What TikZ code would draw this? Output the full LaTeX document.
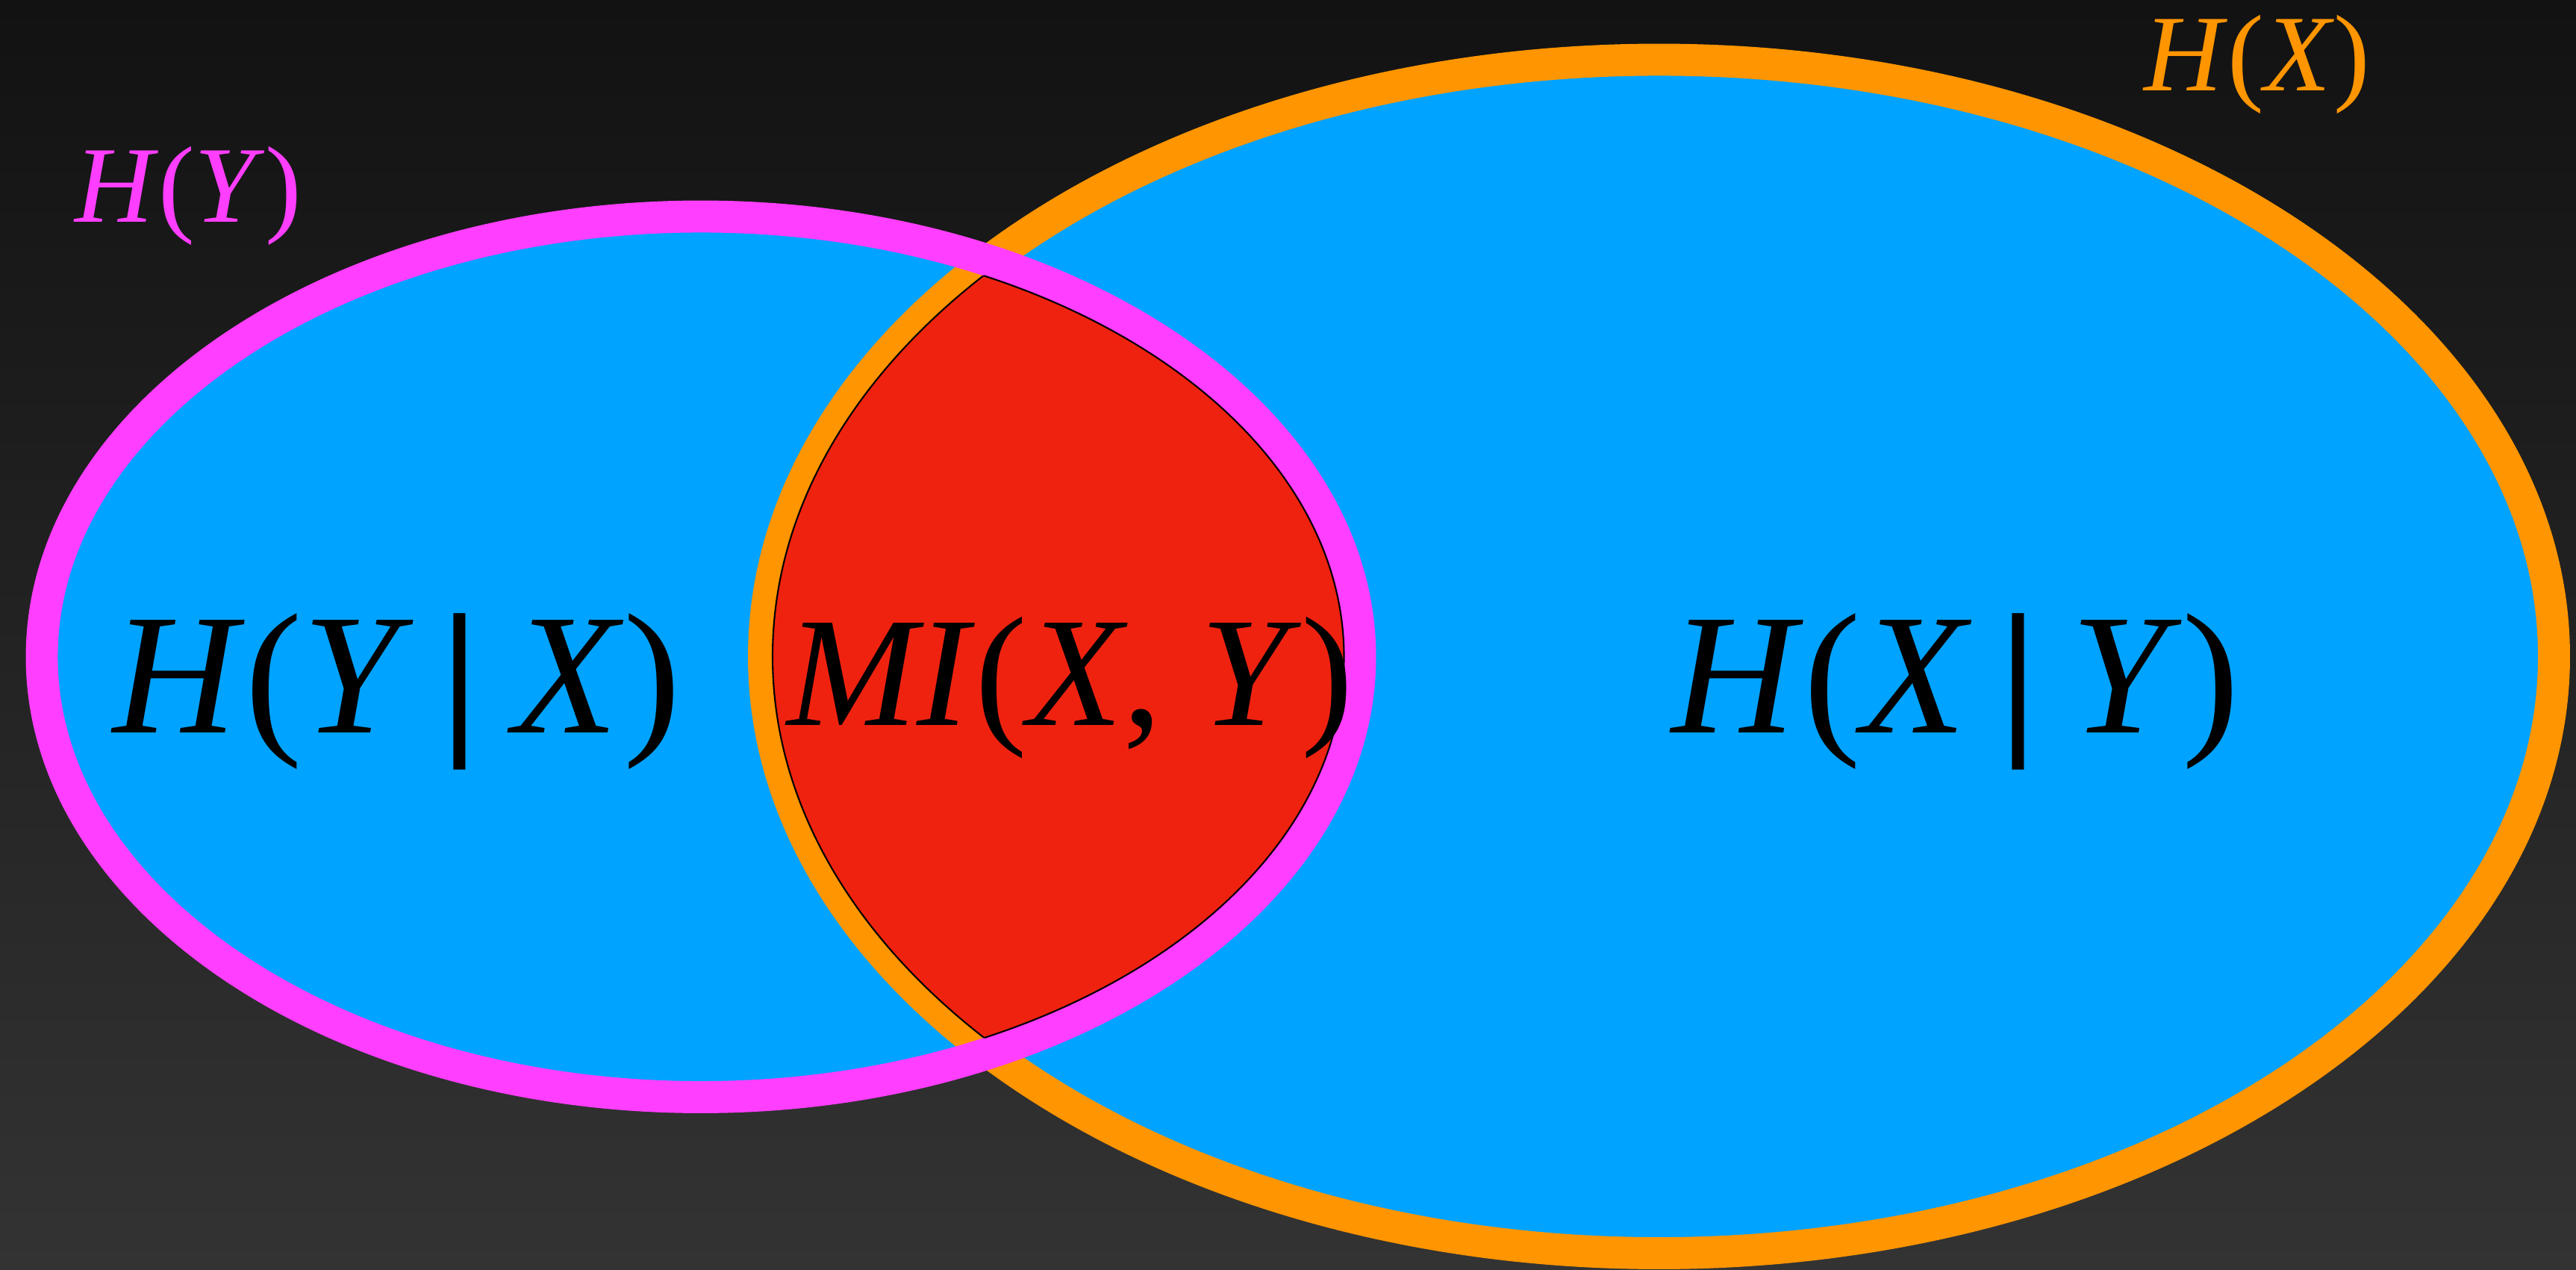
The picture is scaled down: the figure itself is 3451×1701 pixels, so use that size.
\documentclass[tikz,border=0pt]{standalone}
\usepackage{fontspec}
\setmainfont{Liberation Serif}
\definecolor{bgtop}{HTML}{121212}
\definecolor{bgbot}{HTML}{333333}
\definecolor{vennblue}{HTML}{00A3FF}
\definecolor{hxorange}{HTML}{FF9500}
\definecolor{hypink}{HTML}{FF3EFF}
\definecolor{mired}{HTML}{EF2210}
\newcommand{\condbar}{\hspace{0.16em}{\bfseries|}\hspace{0.2em}}
\begin{document}
\begin{tikzpicture}[x=0.01cm, y=-0.01cm,
  ring/.style={line width=12.2pt},
  outerx/.style={x radius=1199, y radius=799.25},
  outery/.style={x radius=883, y radius=589.75},
  cutx/.style={x radius=1187.5, y radius=787.75},
  cuty/.style={x radius=861.5, y radius=568.25},
  biglabel/.style={anchor=base, inner sep=0pt, font=\fontsize{65.5}{72}\selectfont},
  milabel/.style={anchor=base, inner sep=0pt, font=\fontsize{59.5}{66}\selectfont},
  setlabel/.style={anchor=base, inner sep=0pt, font=\fontsize{41.5}{48}\selectfont}]
% Entropy Venn diagram, pixel coordinates (y downwards)
\begin{scope}[line join=round]
  % Background
  \shade[top color=bgtop, bottom color=bgbot] (0,0) rectangle (3451,1701);
  \useasboundingbox (0,0) rectangle (3451,1701);
  % Centres
  \coordinate (hxc) at (2222.5,879.25);
  \coordinate (hyc) at (939,879.75);
  % Fills
  \fill[vennblue] (hxc) ellipse [outerx];
  \fill[vennblue] (hyc) ellipse [outery];
  % Rings
  \draw[hxorange, ring] (hxc) ellipse [outerx];
  \draw[hypink, ring] (hyc) ellipse [outery];
  % Overlap
  \begin{scope}
    \clip (hxc) ellipse [cutx];
    \fill[mired] (hyc) ellipse [cuty];
    \draw[black, line width=0.6pt] (hyc) ellipse [cuty];
  \end{scope}
  \begin{scope}
    \clip (hyc) ellipse [cuty];
    \draw[black, line width=0.6pt] (hxc) ellipse [cutx];
  \end{scope}
  % Labels
  \node[setlabel, text=hypink] (hy) at (252,298) {\textit{H}(\textit{Y})};
  \node[setlabel, text=hxorange] (hx) at (3024,122) {\textit{H}(\textit{X})};
  \node[biglabel] (hyx) at (532,982) {\textit{H}(\textit{Y}\condbar\textit{X})};
  \node[milabel] (mi) at (1434,972) {\textit{MI}(\textit{X}, \textit{Y})};
  \node[biglabel] (hxy) at (2620,982) {\textit{H}(\textit{X}\condbar\textit{Y})};
\end{scope}
\end{tikzpicture}
\end{document}
